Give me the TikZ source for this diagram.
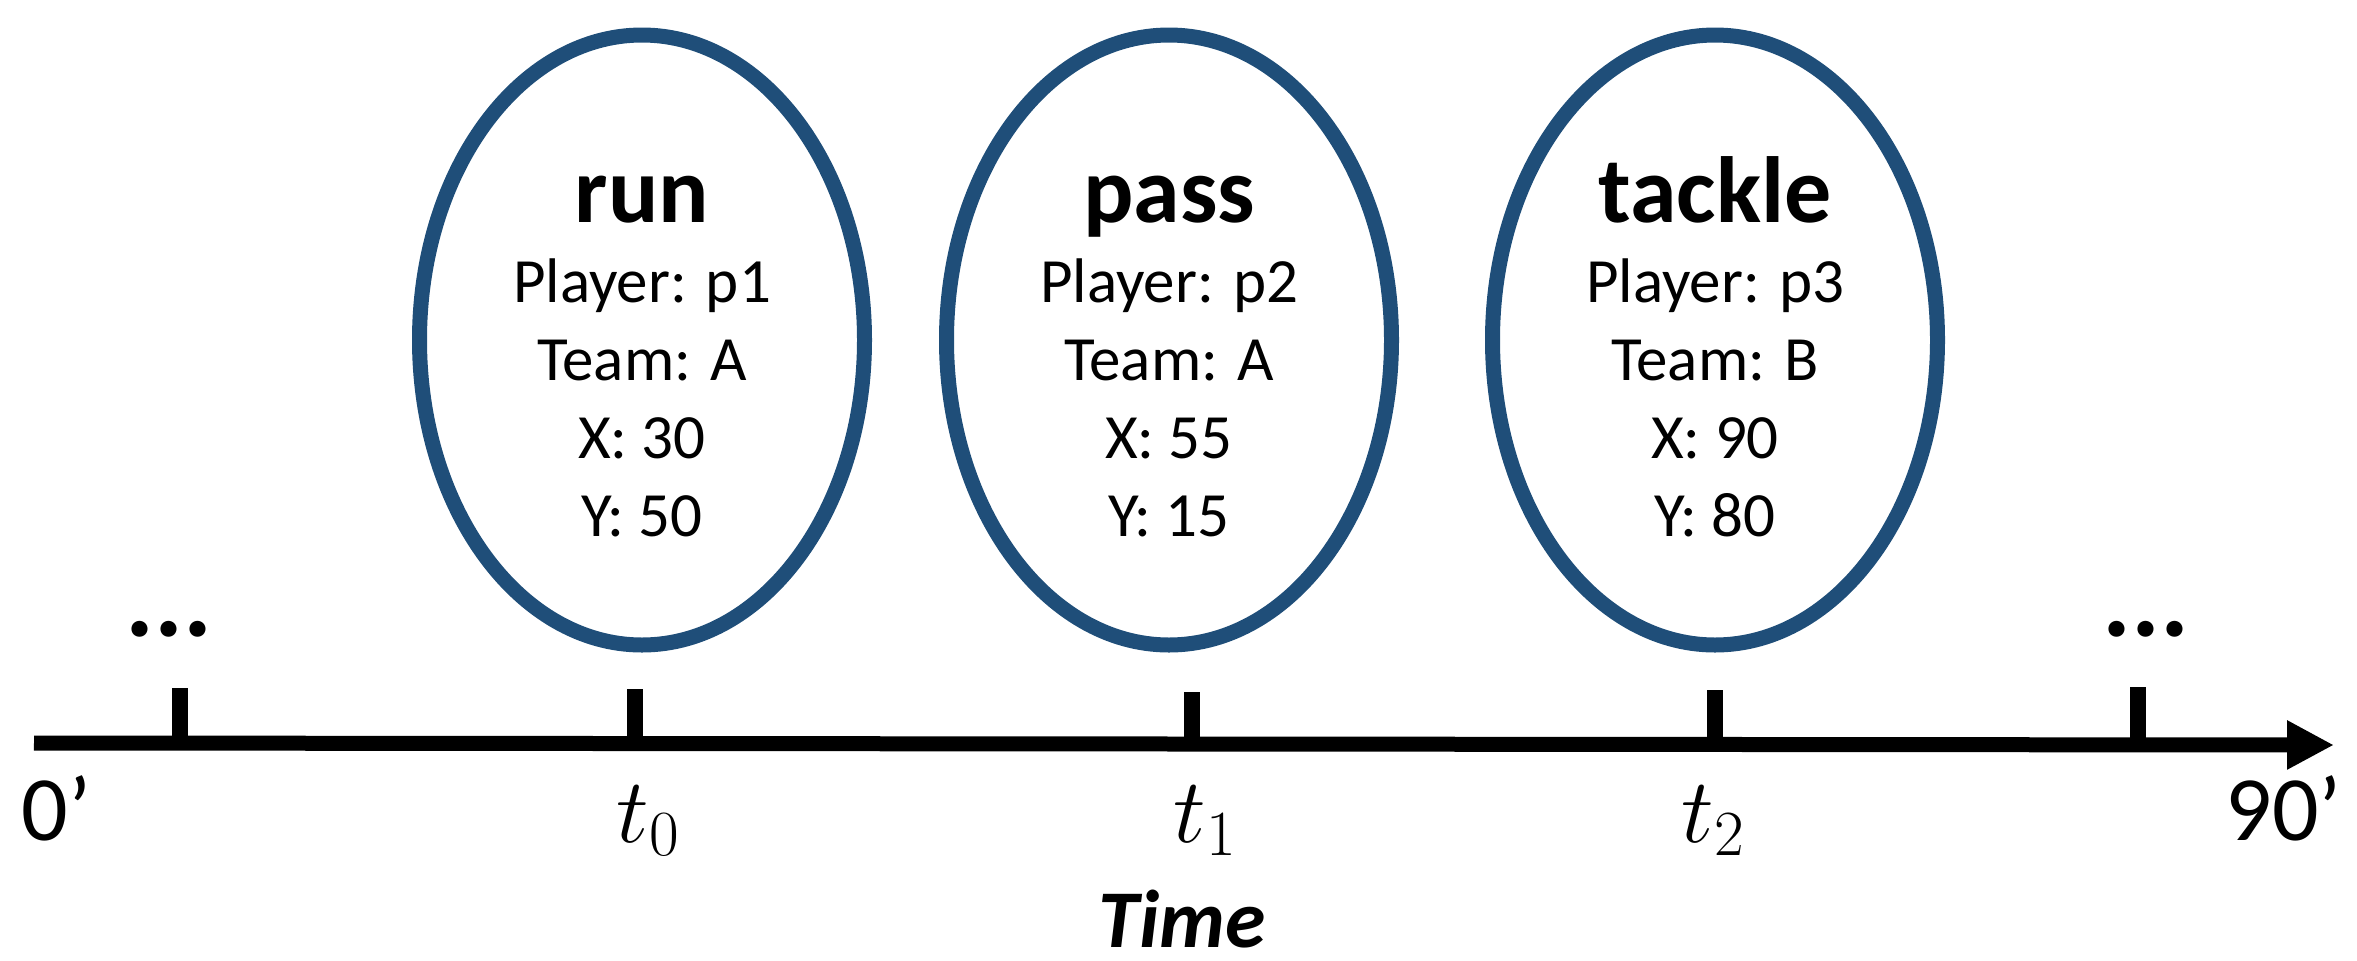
\documentclass[tikz,border=0pt]{standalone}
\usepackage{fix-cm}
\usepackage[no-math]{fontspec}
\setmainfont{Carlito}
\usetikzlibrary{arrows.meta,shapes.geometric}

\definecolor{eventblue}{RGB}{31,78,121}

\tikzset{
  event/.style={ellipse, draw=eventblue, line width=7.5pt,
    minimum width=222.5pt, minimum height=305pt, inner sep=0pt},
  evtitle/.style={anchor=base, inner sep=0pt,
    font=\fontsize{47}{56}\selectfont\bfseries},
  evline/.style={anchor=base, inner sep=0pt,
    font=\fontsize{31.5}{38}\selectfont},
  timeaxis/.style={line width=7.5pt,
    -{Triangle[length=23.5pt,width=23pt]}},
  tickmark/.style={line width=8pt},
  ticklabel/.style={anchor=base, inner sep=0pt,
    font=\fontsize{46}{55}\selectfont},
  endlabel/.style={inner sep=0pt,
    font=\fontsize{46}{55}\selectfont},
  etc/.style={anchor=base, inner sep=0pt,
    font=\fontsize{54}{64}\selectfont\bfseries\itshape},
}

% one event: name, x position, action, player, team, X, Y
\newcommand\drawevent[7]{%
  \node[event] (#1) at (#2,340) {};
  \node[evtitle] (#1-title)  at (#2,222) {#3};
  \node[evline]  (#1-player) at (#2,302) {Player: #4};
  \node[evline]  (#1-team)   at (#2,380) {Team: #5};
  \node[evline]  (#1-x)      at (#2,458) {X: #6};
  \node[evline]  (#1-y)      at (#2,536) {Y: #7};
}

\begin{document}
\begin{tikzpicture}[x=0.5pt,y=-0.5pt]
  \useasboundingbox (0,0) rectangle (2357,960);

  % events
  \drawevent{run}{642}{run}{p1}{A}{30}{50}
  \drawevent{pass}{1169}{pass}{p2}{A}{55}{15}
  \drawevent{tackle}{1715}{tackle}{p3}{B}{90}{80}

  % time axis
  \coordinate (axstart) at (34,743);
  \coordinate (axend)   at (2334,745);
  \draw[timeaxis] (axstart) -- (axend);

  % tick marks
  \foreach \tx/\ty in {180/688, 635/689, 1192/692, 1715/690, 2138/687}
    \draw[tickmark] (\tx,\ty) -- (\tx,744);

  % ellipsis marks above the outer ticks
  \node[etc] (dotsl) at (171,636) {...};
  \node[etc] (dotsr) at (2148,636) {...};

  % tick labels
  \node[endlabel, anchor=base west] (zero) at (21,840) {0’};
  \node[endlabel, anchor=base east] (ninety) at (2342,840) {90’};
  \node[ticklabel] (t0) at (648,842) {$t_0$};
  \node[ticklabel] (t1) at (1205,842) {$t_1$};
  \node[ticklabel] (t2) at (1713,842) {$t_2$};

  % axis title
  \node[anchor=base, inner sep=0pt,
    font=\fontsize{41}{49}\selectfont\bfseries\itshape] (timelabel)
    at (1182,947) {Time};
\end{tikzpicture}
\end{document}
